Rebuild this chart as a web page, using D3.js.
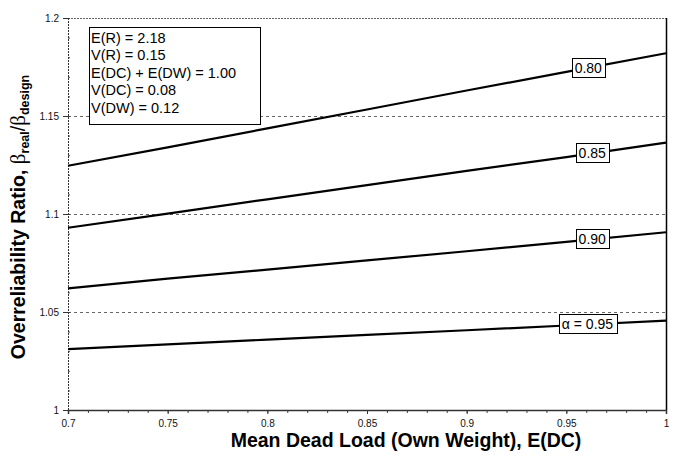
<!DOCTYPE html>
<html>
<head>
<meta charset="utf-8">
<script src="https://cdn.jsdelivr.net/npm/d3@7/dist/d3.min.js"></script>
<style>
  html, body { margin: 0; padding: 0; background: #fff; }
  svg { display: block; font-family: "Liberation Sans", Arial, sans-serif; }
</style>
</head>
<body>
<svg id="chart" width="677" height="457"></svg>
<script>
// Mean dead load E(DC) sampled along the x axis
const deadLoad = [0.7, 0.75, 0.8, 0.85, 0.9, 0.95, 1.0];

// Overreliability ratio for each load factor alpha
const ratioA080 = [1.1246, 1.134, 1.1437, 1.1533, 1.163, 1.1725, 1.182];
const ratioA085 = [1.093, 1.1002, 1.1075, 1.1147, 1.122, 1.129, 1.1364];
const ratioA090 = [1.0621, 1.067, 1.0716, 1.0763, 1.081, 1.0858, 1.0907];
const ratioA095 = [1.0311, 1.0335, 1.0359, 1.0383, 1.0407, 1.0431, 1.0456];

const seriesNames = ["0.80", "0.85", "0.90", "α = 0.95"];
const labelAt = [0.961, 0.963, 0.963, 0.9606];

const xTicks = [0.7, 0.75, 0.8, 0.85, 0.9, 0.95, 1.0];
const xTickLabels = ["0.7", "0.75", "0.8", "0.85", "0.9", "0.95", "1"];
const yTicks = [1.0, 1.05, 1.1, 1.15, 1.2];
const yTickLabels = ["1", "1.05", "1.1", "1.15", "1.2"];

const paramLines = [
  "E(R) = 2.18",
  "V(R) = 0.15",
  "E(DC) + E(DW) = 1.00",
  "V(DC) = 0.08",
  "V(DW) = 0.12"
];

(function () {
const svg = d3.select("#chart");
const left = 68, right = 666, topY = 18, bottom = 410;

const x = d3.scaleLinear().domain([0.7, 1.0]).range([left, right]);
const y = d3.scaleLinear().domain([1.0, 1.2]).range([bottom, topY]);

// Dashed horizontal gridlines
svg.append("g").selectAll("line")
  .data(yTicks.filter(v => v > 1.0))
  .join("line")
  .attr("x1", left).attr("x2", right)
  .attr("y1", d => y(d) + 0.5).attr("y2", d => y(d) + 0.5)
  .attr("stroke", "#666")
  .attr("stroke-width", 1)
  .attr("stroke-dasharray", d => d === 1.2 ? "2,1" : "3,3");

// Right frame edge
svg.append("line")
  .attr("x1", right + 0.5).attr("x2", right + 0.5)
  .attr("y1", topY).attr("y2", bottom)
  .attr("stroke", "#000").attr("stroke-width", 1.5);

// Minor x ticks every 0.01
const minorX = d3.range(70, 101).map(v => v / 100);
svg.append("g").selectAll("line")
  .data(minorX)
  .join("line")
  .attr("x1", d => x(d) + 0.5).attr("x2", d => x(d) + 0.5)
  .attr("y1", bottom).attr("y2", bottom + 3)
  .attr("stroke", "#444").attr("stroke-width", 1);

// Minor y ticks every 0.01, inside the plot
const minorY = d3.range(100, 121).map(v => v / 100);
svg.append("g").selectAll("line")
  .data(minorY)
  .join("line")
  .attr("x1", left).attr("x2", left + 2)
  .attr("y1", d => y(d) + 0.5).attr("y2", d => y(d) + 0.5)
  .attr("stroke", "#444").attr("stroke-width", 1);

// Bottom axis
const xAxis = d3.axisBottom(x)
  .tickValues(xTicks)
  .tickFormat((d, i) => xTickLabels[i])
  .tickSize(4).tickPadding(6);
const gx = svg.append("g").attr("transform", `translate(0,${bottom})`).call(xAxis);
gx.select(".domain").attr("stroke", "#333").attr("stroke-width", 1.5);
gx.selectAll(".tick line").attr("stroke", "#333");
gx.selectAll(".tick text")
  .attr("font-family", "Liberation Sans, Arial, sans-serif")
  .attr("font-size", 10).attr("fill", "#111");

// Left axis
const yAxis = d3.axisLeft(y)
  .tickValues(yTicks)
  .tickFormat((d, i) => yTickLabels[i])
  .tickSize(5).tickPadding(4);
const gy = svg.append("g").attr("transform", `translate(${left},0)`).call(yAxis);
gy.select(".domain").attr("stroke", "#333").attr("stroke-width", 1).attr("stroke-dasharray", "2,1");
gy.selectAll(".tick line").attr("stroke", "#333");
gy.selectAll(".tick text")
  .attr("font-family", "Liberation Sans, Arial, sans-serif")
  .attr("font-size", 10).attr("fill", "#111");

// Curves
const seriesData = [ratioA080, ratioA085, ratioA090, ratioA095];
const line = d3.line().x((d, i) => x(deadLoad[i])).y(d => y(d));
svg.append("g").selectAll("path")
  .data(seriesData)
  .join("path")
  .attr("d", d => line(d))
  .attr("fill", "none")
  .attr("stroke", "#000")
  .attr("stroke-width", 2.2);

// Inline labels sitting on each curve
const interp = (vals, xv) => {
  for (let i = 0; i < deadLoad.length - 1; i++) {
    if (xv >= deadLoad[i] && xv <= deadLoad[i + 1]) {
      const t = (xv - deadLoad[i]) / (deadLoad[i + 1] - deadLoad[i]);
      return vals[i] + t * (vals[i + 1] - vals[i]);
    }
  }
  return vals[vals.length - 1];
};
seriesData.forEach((vals, k) => {
  const cx = x(labelAt[k]);
  const cy = y(interp(vals, labelAt[k]));
  const g = svg.append("g");
  const t = g.append("text")
    .attr("x", cx).attr("y", cy + 5)
    .attr("text-anchor", "middle")
    .attr("font-size", 14)
    .attr("fill", "#000")
    .text(seriesNames[k]);
  const bb = t.node().getBBox();
  g.insert("rect", "text")
    .attr("x", Math.round(bb.x - 3) + 0.5)
    .attr("y", Math.round(cy - 10) + 0.5)
    .attr("width", Math.round(bb.width + 6))
    .attr("height", 19)
    .attr("fill", "#fff")
    .attr("stroke", "#000")
    .attr("stroke-width", 1);
});

// Parameter box
const pb = svg.append("g");
pb.append("rect")
  .attr("x", 89.5).attr("y", 27.5)
  .attr("width", 171).attr("height", 97)
  .attr("fill", "#fff").attr("stroke", "#000").attr("stroke-width", 1);
pb.selectAll("text")
  .data(paramLines)
  .join("text")
  .attr("x", 91)
  .attr("y", (d, i) => 42.5 + i * 17.5)
  .attr("font-size", 14.5)
  .attr("fill", "#000")
  .text(d => d);

// Axis titles
svg.append("text")
  .attr("x", 406).attr("y", 447)
  .attr("text-anchor", "middle")
  .attr("font-size", 19.5).attr("font-weight", "bold")
  .attr("fill", "#000")
  .text("Mean Dead Load (Own Weight), E(DC)");

const yt = svg.append("text")
  .attr("transform", "translate(25,217) rotate(-90)")
  .attr("text-anchor", "middle")
  .attr("font-size", 19.5).attr("fill", "#000");
yt.append("tspan").attr("font-weight", "bold").text("Overreliability Ratio, ");
yt.append("tspan").attr("font-family", "Liberation Serif, serif").attr("font-size", 21).text("β");
yt.append("tspan").attr("font-weight", "bold").attr("font-size", 12.5).attr("dy", 4).text("real");
yt.append("tspan").attr("dy", -4).text("/");
yt.append("tspan").attr("font-family", "Liberation Serif, serif").attr("font-size", 21).text("β");
yt.append("tspan").attr("font-weight", "bold").attr("font-size", 12.5).attr("dy", 4).text("design");
})();
</script>
</body>
</html>
